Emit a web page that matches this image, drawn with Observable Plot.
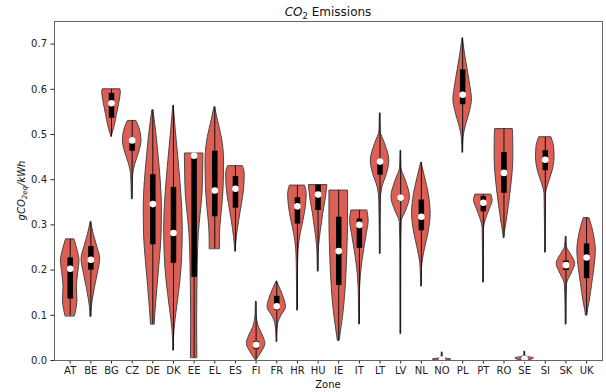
<!DOCTYPE html>
<html><head><meta charset="utf-8">
<script src="https://cdn.jsdelivr.net/npm/d3@7"></script>
<script src="https://cdn.jsdelivr.net/npm/@observablehq/plot@0.6"></script>
<style>body{margin:0;background:#fff} svg{display:block}</style>
</head><body><div id="chart"></div><script>
const zones = ["AT","BE","BG","CZ","DE","DK","EE","EL","ES","FI","FR","HR","HU","IE","IT","LT","LV","NL","NO","PL","PT","RO","SE","SI","SK","UK"];
const minV = [0.098,0.097,0.495,0.357,0.080,0.022,0.006,0.247,0.241,0.001,0.041,0.111,0.197,0.044,0.080,0.236,0.059,0.164,0.000,0.460,0.173,0.271,0.000,0.239,0.080,0.100];
const q1V  = [0.136,0.200,0.536,0.463,0.256,0.215,0.184,0.318,0.337,0.025,0.111,0.302,0.332,0.166,0.248,0.410,0.352,0.287,0.001,0.566,0.329,0.370,0.002,0.420,0.199,0.181];
const medV = [0.203,0.223,0.569,0.487,0.346,0.282,0.453,0.376,0.380,0.035,0.120,0.341,0.367,0.242,0.300,0.440,0.360,0.318,0.002,0.588,0.349,0.415,0.004,0.444,0.211,0.228];
const q3V  = [0.227,0.252,0.591,0.492,0.411,0.383,0.456,0.463,0.407,0.042,0.142,0.360,0.388,0.317,0.313,0.445,0.365,0.355,0.003,0.643,0.363,0.460,0.006,0.464,0.220,0.258];
const maxV = [0.268,0.307,0.600,0.530,0.554,0.564,0.458,0.561,0.430,0.130,0.175,0.387,0.388,0.376,0.332,0.547,0.464,0.438,0.018,0.713,0.367,0.512,0.020,0.494,0.274,0.315];
// violin outline: [value, relative half-width]
const violinProfiles = [
 [[0.268,0.45],[0.243,0.8],[0.221,1.0],[0.192,0.85],[0.162,0.72],[0.133,0.78],[0.111,0.65],[0.098,0.5]],
 [[0.307,0.02],[0.280,0.3],[0.251,0.7],[0.225,1.0],[0.192,0.75],[0.162,0.45],[0.133,0.2],[0.118,0.1],[0.097,0.05]],
 [[0.600,0.95],[0.593,1.0],[0.571,0.85],[0.545,0.6],[0.519,0.35],[0.501,0.1],[0.495,0.02]],
 [[0.530,0.45],[0.516,0.75],[0.486,1.0],[0.460,0.75],[0.435,0.35],[0.413,0.12],[0.383,0.06],[0.357,0.03]],
 [[0.554,0.05],[0.516,0.3],[0.457,0.6],[0.398,0.85],[0.339,0.98],[0.280,0.95],[0.221,0.75],[0.162,0.5],[0.111,0.3],[0.080,0.2]],
 [[0.564,0.02],[0.508,0.25],[0.442,0.55],[0.368,0.85],[0.295,1.0],[0.236,0.95],[0.177,0.75],[0.118,0.4],[0.066,0.1],[0.022,0.02]],
 [[0.458,1.0],[0.420,0.97],[0.368,0.9],[0.324,0.7],[0.280,0.5],[0.221,0.4],[0.162,0.35],[0.088,0.32],[0.006,0.35]],
 [[0.561,0.03],[0.530,0.35],[0.494,0.75],[0.442,1.0],[0.383,0.95],[0.339,0.8],[0.295,0.6],[0.265,0.55],[0.247,0.55]],
 [[0.430,0.8],[0.413,1.0],[0.383,0.95],[0.346,0.7],[0.309,0.4],[0.273,0.15],[0.241,0.02]],
 [[0.130,0.02],[0.103,0.05],[0.074,0.3],[0.052,0.8],[0.037,1.0],[0.018,0.6],[0.001,0.05]],
 [[0.175,0.02],[0.155,0.45],[0.133,0.85],[0.118,1.0],[0.099,0.5],[0.081,0.15],[0.059,0.05],[0.041,0.02]],
 [[0.387,0.8],[0.368,1.0],[0.339,0.9],[0.309,0.65],[0.280,0.35],[0.243,0.12],[0.199,0.06],[0.111,0.03]],
 [[0.388,1.0],[0.361,0.85],[0.324,0.55],[0.287,0.3],[0.251,0.1],[0.221,0.05],[0.197,0.03]],
 [[0.376,1.0],[0.309,1.0],[0.236,0.92],[0.162,0.75],[0.103,0.5],[0.066,0.25],[0.044,0.1]],
 [[0.332,0.85],[0.309,1.0],[0.280,0.8],[0.243,0.5],[0.206,0.25],[0.162,0.08],[0.118,0.04],[0.080,0.02]],
 [[0.547,0.02],[0.508,0.06],[0.479,0.55],[0.442,1.0],[0.413,0.75],[0.383,0.25],[0.354,0.08],[0.295,0.04],[0.236,0.02]],
 [[0.464,0.02],[0.427,0.06],[0.398,0.55],[0.361,1.0],[0.332,0.6],[0.306,0.1],[0.236,0.04],[0.059,0.03]],
 [[0.438,0.02],[0.405,0.4],[0.368,0.8],[0.324,1.0],[0.280,0.75],[0.243,0.35],[0.206,0.08],[0.164,0.02]],
 [[0.018,0.02],[0.006,0.05],[0.004,0.5],[0.002,1.0],[0.000,0.6]],
 [[0.713,0.02],[0.678,0.25],[0.641,0.55],[0.604,0.85],[0.578,1.0],[0.552,0.8],[0.523,0.4],[0.494,0.1],[0.460,0.02]],
 [[0.367,0.85],[0.354,1.0],[0.335,0.7],[0.313,0.3],[0.291,0.07],[0.236,0.04],[0.173,0.03]],
 [[0.512,0.95],[0.486,1.0],[0.442,1.0],[0.398,0.85],[0.354,0.6],[0.309,0.3],[0.284,0.1],[0.271,0.03]],
 [[0.020,0.02],[0.011,0.05],[0.008,0.3],[0.005,1.0],[0.003,0.9],[0.000,0.3]],
 [[0.494,0.65],[0.472,0.95],[0.449,1.0],[0.420,0.8],[0.391,0.35],[0.368,0.08],[0.309,0.04],[0.239,0.02]],
 [[0.274,0.02],[0.251,0.1],[0.236,0.5],[0.214,1.0],[0.192,0.6],[0.169,0.12],[0.125,0.05],[0.080,0.03]],
 [[0.315,0.3],[0.295,0.6],[0.265,0.9],[0.243,1.0],[0.206,0.85],[0.169,0.6],[0.133,0.35],[0.111,0.15],[0.100,0.08]]
];
const yTicks = [0,0.1,0.2,0.3,0.4,0.5,0.6,0.7];

const rows = [];
zones.forEach((z,k)=>{
  violinProfiles[k].slice().sort((a,b)=>a[0]-b[0]).forEach(([v,w])=>rows.push({zone:z,i:k+1,v,w}));
});
const stats = zones.map((z,k)=>({zone:z,i:k+1,min:minV[k],q1:q1V[k],med:medV[k],q3:q3V[k],max:maxV[k]}));
const HW = 0.45;

const chart = Plot.plot({
  width:606, height:392, marginLeft:54, marginRight:4, marginTop:21, marginBottom:32,
  style:{fontFamily:"'DejaVu Sans', sans-serif", fontSize:"10px", color:"#222", background:"#fff"},
  x:{type:"linear", domain:[0.24,26.77], ticks:zones.map((_,k)=>k+1), tickFormat:i=>zones[i-1], tickSize:3.5, tickPadding:3, label:null},
  y:{domain:[0,0.75], ticks:yTicks, tickFormat:d=>d.toFixed(1), tickSize:3.5, tickPadding:4, label:null},
  marks:[
    Plot.areaX(rows,{y:"v", x1:d=>d.i-d.w*HW, x2:d=>d.i+d.w*HW, z:"zone", curve:"monotone-y", fill:"#dc5f55", stroke:"#3a3a3a", strokeWidth:0.9}),
    Plot.ruleX(stats,{x:"i", y1:"min", y2:"max", stroke:"#111", strokeWidth:1}),
    Plot.ruleX(stats,{x:"i", y1:"q1", y2:"q3", stroke:"#000", strokeWidth:5.5}),
    Plot.dot(stats,{x:"i", y:"med", r:3.3, fill:"white", stroke:"none"}),
    Plot.frame({stroke:"#666"})
  ]
});
document.getElementById("chart").appendChild(chart);
const svg = d3.select(chart);
const t = svg.append("text").attr("x",328).attr("y",16).attr("text-anchor","middle").attr("font-size",12).attr("fill","#111");
t.append("tspan").attr("font-style","italic").text("CO");
t.append("tspan").attr("font-size",8.5).attr("dy",2.5).text("2");
t.append("tspan").attr("dy",-2.5).text(" Emissions");
const yl = svg.append("text").attr("transform","translate(25,190.5) rotate(-90)").attr("text-anchor","middle").attr("font-size",10).attr("font-style","italic").attr("fill","#111");
yl.append("tspan").text("gCO");
yl.append("tspan").attr("font-size",7).attr("dy",2).text("2eq");
yl.append("tspan").attr("dy",-2).text("/kWh");
svg.append("text").attr("x",328).attr("y",388).attr("text-anchor","middle").attr("font-size",10).attr("fill","#111").text("Zone");
</script></body></html>
